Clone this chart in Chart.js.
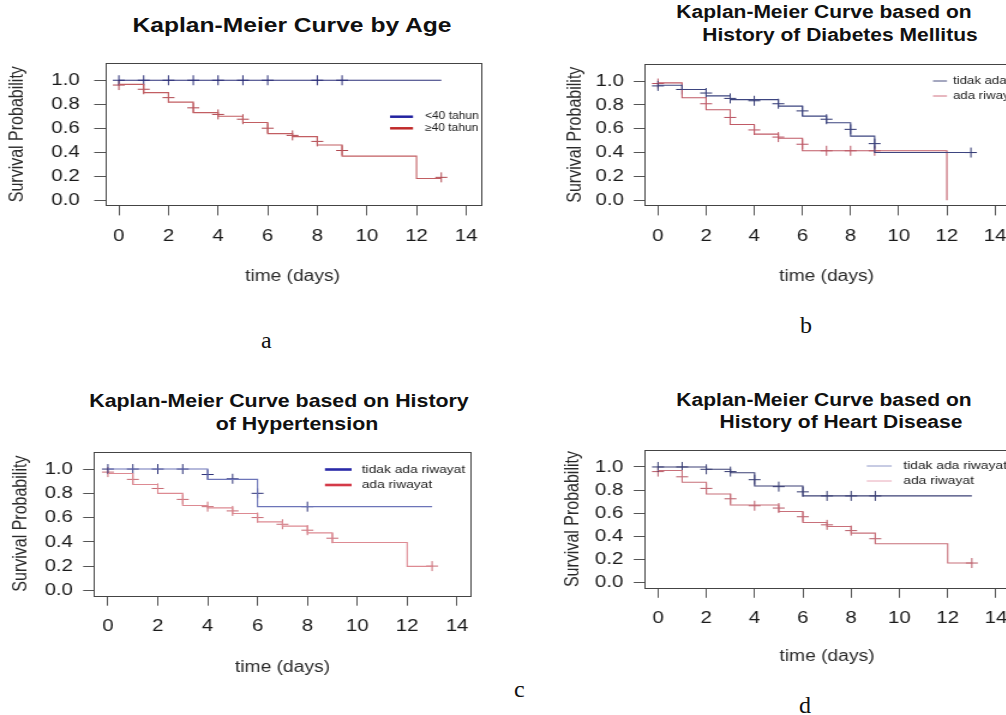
<!DOCTYPE html>
<html>
<head>
<meta charset="utf-8">
<script src="https://cdn.jsdelivr.net/npm/chart.js@4.4.1/dist/chart.umd.min.js"></script>
<style>
  html, body { margin: 0; padding: 0; background: #fff; }
  body { position: relative; width: 1006px; height: 715px; overflow: hidden; }
  canvas { position: absolute; }
  .title {
    position: absolute; font-family: "Liberation Sans", Arial, sans-serif; font-weight: bold;
    color: #111; white-space: pre; line-height: 1; transform: translate(-50%, -50%) scaleX(1.2);
  }
  .tag { position: absolute; font-family: "Liberation Serif", "Times New Roman", serif; font-size: 24px; color: #111; line-height: 1; }
</style>
</head>
<body>
<div class="title" style="left:292px;top:25px;font-size:20.5px">Kaplan-Meier Curve by Age</div>
<div class="title" style="left:824px;top:12.5px;font-size:17.5px">Kaplan-Meier Curve based on</div>
<div class="title" style="left:840px;top:36px;font-size:17.5px">History of Diabetes Mellitus</div>
<div class="title" style="left:279px;top:402px;font-size:17.8px">Kaplan-Meier Curve based on History</div>
<div class="title" style="left:297px;top:425px;font-size:17.8px">of Hypertension</div>
<div class="title" style="left:824px;top:401px;font-size:17.5px">Kaplan-Meier Curve based on</div>
<div class="title" style="left:841px;top:423px;font-size:17.5px">History of Heart Disease</div>

<canvas id="chartA" width="420" height="286" style="left:0px;top:0px;width:504px;height:286px"></canvas>
<canvas id="chartB" width="410" height="286" style="left:540px;top:0px;width:492px;height:286px"></canvas>
<canvas id="chartC" width="410" height="297" style="left:0px;top:380px;width:492px;height:297px"></canvas>
<canvas id="chartD" width="410" height="286" style="left:540px;top:380px;width:492px;height:286px"></canvas>

<div class="tag" style="left:261px;top:328px">a</div>
<div class="tag" style="left:800px;top:313px">b</div>
<div class="tag" style="left:514px;top:677px">c</div>
<div class="tag" style="left:799px;top:693px">d</div>

<script>
// tick labels
const dayTicks = [0, 2, 4, 6, 8, 10, 12, 14];
const probTicks = [0, 0.2, 0.4, 0.6, 0.8, 1.0];

// group names
const ageGroups = ['<40 tahun', '\u226540 tahun'];
const historyGroups = ['tidak ada riwayat', 'ada riwayat'];

// a: age
const ageYoungTimes = [0, 13];
const ageYoungSurv = [1.0, 1.0];
const ageYoungCensorTimes = [0, 1, 2, 3, 4, 5, 6, 8, 9];
const ageYoungCensorSurv = [1.0, 1.0, 1.0, 1.0, 1.0, 1.0, 1.0, 1.0, 1.0];
const ageOldTimes = [0, 1, 2, 3, 4, 5, 6, 7, 8, 9, 12, 13];
const ageOldSurv = [0.966, 0.897, 0.818, 0.73, 0.70, 0.647, 0.555, 0.53, 0.46, 0.367, 0.18, 0.18];
const ageOldCensorTimes = [0, 1, 2, 3, 4, 5, 6, 7, 8, 9, 13];
const ageOldCensorSurv = [0.96, 0.925, 0.855, 0.77, 0.715, 0.675, 0.60, 0.54, 0.49, 0.414, 0.19];

// b: diabetes mellitus
const dmNoTimes = [0, 1, 2, 3, 5, 6, 7, 8, 9, 13];
const dmNoSurv = [0.965, 0.93, 0.876, 0.845, 0.79, 0.706, 0.65, 0.538, 0.40, 0.40];
const dmNoCensorTimes = [0, 1, 2, 3, 4, 5, 6, 7, 8, 9, 13];
const dmNoCensorSurv = [0.96, 0.93, 0.90, 0.855, 0.835, 0.81, 0.75, 0.68, 0.595, 0.475, 0.40];
const dmYesTimes = [0, 1, 2, 3, 4, 5, 6, 12];
const dmYesSurv = [0.985, 0.86, 0.76, 0.636, 0.555, 0.52, 0.415, 0.0];
const dmYesCensorTimes = [0, 2, 3, 4, 5, 6, 7, 8, 9];
const dmYesCensorSurv = [0.98, 0.81, 0.695, 0.59, 0.53, 0.47, 0.415, 0.415, 0.415];

// c: hypertension
const htNoTimes = [0, 4, 6, 13];
const htNoSurv = [1.0, 0.915, 0.69, 0.69];
const htNoCensorTimes = [0, 1, 2, 3, 4, 5, 6, 8];
const htNoCensorSurv = [1.0, 1.0, 1.0, 1.0, 0.955, 0.92, 0.80, 0.69];
const htYesTimes = [0, 1, 2, 3, 4, 5, 6, 7, 8, 9, 12, 13];
const htYesSurv = [0.964, 0.873, 0.80, 0.70, 0.68, 0.634, 0.565, 0.53, 0.474, 0.394, 0.198, 0.198];
const htYesCensorTimes = [0, 1, 2, 3, 4, 5, 6, 7, 8, 9, 13];
const htYesCensorSurv = [0.975, 0.915, 0.84, 0.75, 0.69, 0.655, 0.60, 0.545, 0.496, 0.43, 0.20];

// d: heart disease
const hdNoTimes = [0, 2, 3, 4, 6, 13];
const hdNoSurv = [1.0, 0.98, 0.95, 0.836, 0.75, 0.75];
const hdNoCensorTimes = [0, 1, 2, 3, 4, 5, 6, 7, 8, 9];
const hdNoCensorSurv = [1.0, 1.0, 0.98, 0.96, 0.89, 0.83, 0.785, 0.75, 0.75, 0.75];
const hdYesTimes = [0, 1, 2, 3, 5, 6, 7, 8, 9, 12, 13];
const hdYesSurv = [0.97, 0.868, 0.767, 0.672, 0.615, 0.52, 0.485, 0.428, 0.336, 0.17, 0.17];
const hdYesCensorTimes = [0, 1, 2, 3, 4, 5, 6, 7, 8, 9, 13];
const hdYesCensorSurv = [0.96, 0.915, 0.815, 0.725, 0.665, 0.645, 0.57, 0.50, 0.45, 0.38, 0.17];

const FONT = '"Liberation Sans", Arial, sans-serif';

// R style box round the plot region
const boxPlugin = {
    id: 'kmBox',
    afterDatasetsDraw(chart) {
        const {ctx, chartArea: a} = chart;
        ctx.save();
        ctx.strokeStyle = '#444';
        ctx.lineWidth = 1;
        ctx.strokeRect(Math.round(a.left) + 0.5, Math.round(a.top) + 0.5,
            Math.round(a.right - a.left), Math.round(a.bottom - a.top));
        ctx.restore();
    }
};

// legend drawn inside the plot, like R's legend()
const legendPlugin = {
    id: 'kmLegend',
    afterDraw(chart, args, opts) {
        const {ctx, chartArea: a} = chart;
        ctx.save();
        ctx.font = opts.fontSize + 'px ' + FONT;
        ctx.textBaseline = 'middle';
        opts.datasets.forEach((dsIndex, i) => {
            const x0 = a.left + opts.left;
            const y = a.top + opts.top + i * opts.rowHeight;
            ctx.strokeStyle = opts.colors[i];
            ctx.lineWidth = opts.lineWidth;
            ctx.beginPath();
            ctx.moveTo(x0, y);
            ctx.lineTo(x0 + opts.lineLength, y);
            ctx.stroke();
            ctx.fillStyle = '#222';
            ctx.fillText(chart.data.datasets[dsIndex].label, x0 + opts.lineLength + opts.gap, y);
        });
        ctx.restore();
    }
};

function stepSeries(label, times, surv, color) {
    return {
        type: 'line',
        label: label,
        data: times.map((t, i) => ({x: t, y: surv[i]})),
        stepped: true,
        borderColor: color,
        borderWidth: 1.1,
        pointRadius: 0,
        fill: false
    };
}

function censorSeries(times, surv, color) {
    return {
        type: 'scatter',
        label: 'censor',
        data: times.map((t, i) => ({x: t, y: surv[i]})),
        pointStyle: 'cross',
        pointRadius: 5,
        borderColor: color,
        backgroundColor: color,
        borderWidth: 1,
        showLine: false
    };
}

function makeChart(id, datasets, p) {
    new Chart(document.getElementById(id), {
        data: {datasets: datasets},
        options: {
            responsive: false,
            animation: false,
            layout: {padding: {top: p.top, right: p.right, left: 0, bottom: 0}},
            plugins: {
                legend: {display: false},
                tooltip: {enabled: false},
                kmLegend: p.legend
            },
            scales: {
                x: {
                    type: 'linear',
                    min: -0.56,
                    max: 14.56,
                    afterBuildTicks: s => { s.ticks = dayTicks.map(v => ({value: v})); },
                    afterFit: s => { s.height = p.xHeight; },
                    grid: {drawOnChartArea: false, drawTicks: true, tickLength: 10, color: '#555'},
                    border: {display: false},
                    ticks: {font: {family: FONT, size: 17}, color: '#1a1a1a', padding: p.xTickPad, maxRotation: 0, autoSkip: false},
                    title: {display: true, text: 'time (days)', font: {family: FONT, size: 16}, color: '#2a2a2a', padding: {top: 0, bottom: 0}}
                },
                y: {
                    type: 'linear',
                    min: -0.044,
                    max: 1.144,
                    afterBuildTicks: s => { s.ticks = probTicks.map(v => ({value: v})); },
                    afterFit: s => { s.width = p.yWidth; },
                    grid: {drawOnChartArea: false, drawTicks: true, tickLength: 9, color: '#555'},
                    border: {display: false},
                    ticks: {font: {family: FONT, size: 17}, color: '#1a1a1a', padding: p.yTickPad, autoSkip: false,
                        callback: v => v.toFixed(1)},
                    title: {display: true, text: 'Survival Probability', font: {family: FONT, size: 16}, color: '#2a2a2a',
                        padding: {top: p.yTitlePad, bottom: 0}}
                }
            }
        },
        plugins: [boxPlugin, legendPlugin]
    });
}

// a
makeChart('chartA', [
    stepSeries(ageGroups[0], ageYoungTimes, ageYoungSurv, '#2b2f78'),
    stepSeries(ageGroups[1], ageOldTimes, ageOldSurv, '#c25e62'),
    censorSeries(ageYoungCensorTimes, ageYoungCensorSurv, '#2b2f78'),
    censorSeries(ageOldCensorTimes, ageOldCensorSurv, '#b04850')
], {
    top: 63, right: 20, yWidth: 87.5, xHeight: 80.6, yTickPad: 12, xTickPad: 11, yTitlePad: 5.4,
    legend: {datasets: [0, 1], colors: ['#2222a0', '#c02a2a'], left: 237.5, top: 53.7, rowHeight: 11.6,
        lineLength: 19.2, gap: 10, lineWidth: 2.5, fontSize: 10}
});

// b
makeChart('chartB', [
    stepSeries(historyGroups[0], dmNoTimes, dmNoSurv, '#3d4580'),
    stepSeries(historyGroups[1], dmYesTimes, dmYesSurv, '#c05a66'),
    censorSeries(dmNoCensorTimes, dmNoCensorSurv, '#2e3570'),
    censorSeries(dmYesCensorTimes, dmYesCensorSurv, '#b85060')
], {
    top: 64, right: 19.6, yWidth: 87.1, xHeight: 80.6, yTickPad: 8.1, xTickPad: 11, yTitlePad: 19.6,
    legend: {datasets: [0, 1], colors: ['#4a5080', '#d07080'], left: 240.4, top: 17, rowHeight: 15,
        lineLength: 11.7, gap: 5, lineWidth: 1, fontSize: 11}
});

// c
makeChart('chartC', [
    stepSeries(historyGroups[0], htNoTimes, htNoSurv, '#6c74b8'),
    stepSeries(historyGroups[1], htYesTimes, htYesSurv, '#dd8a92'),
    censorSeries(htNoCensorTimes, htNoCensorSurv, '#2e3378'),
    censorSeries(htYesCensorTimes, htYesCensorSurv, '#c86a74')
], {
    top: 71.6, right: 17.5, yWidth: 78.3, xHeight: 81.3, yTickPad: 8.5, xTickPad: 10.5, yTitlePad: 7.9,
    legend: {datasets: [0, 1], colors: ['#2a2aa8', '#d43a48'], left: 192.5, top: 17.9, rowHeight: 15.5,
        lineLength: 22.2, gap: 8.4, lineWidth: 2.6, fontSize: 11.5}
});

// d
makeChart('chartD', [
    stepSeries(historyGroups[0], hdNoTimes, hdNoSurv, '#3c4176'),
    stepSeries(historyGroups[1], hdYesTimes, hdYesSurv, '#c8707a'),
    censorSeries(hdNoCensorTimes, hdNoCensorSurv, '#343a70'),
    censorSeries(hdYesCensorTimes, hdYesCensorSurv, '#b85a66')
], {
    top: 70.3, right: 18.75, yWidth: 87.1, xHeight: 78.2, yTickPad: 8.7, xTickPad: 10, yTitlePad: 17.9,
    legend: {datasets: [0, 1], colors: ['#9098c8', '#e8a8b8'], left: 185.2, top: 15.7, rowHeight: 15,
        lineLength: 20.8, gap: 9.7, lineWidth: 1, fontSize: 11.5}
});
</script>
</body>
</html>
